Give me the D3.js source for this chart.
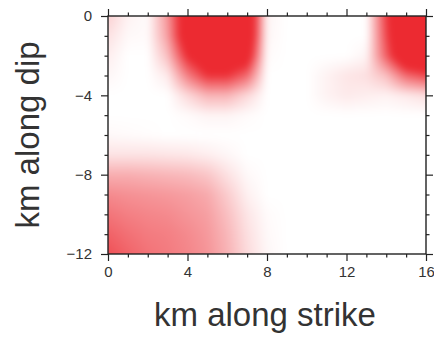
<!DOCTYPE html>
<html>
<head>
<meta charset="utf-8">
<script src="https://cdn.jsdelivr.net/npm/d3@7"></script>
<style>
  html, body { margin: 0; padding: 0; background: #fff; }
  svg { display: block; }
  text { font-family: "Liberation Sans", Arial, Helvetica, sans-serif; fill: #333; }
</style>
</head>
<body>
<svg id="chart" width="434" height="337"></svg>
<script>
// grid nodes (km)
const strikeKm = [0, 1, 2, 3, 4, 5, 6, 7, 8, 9, 10, 11, 12, 13, 14, 15, 16];
const dipKm = [0, -1, -2, -3, -4, -5, -6, -7, -8, -9, -10, -11, -12];

// slip at each node, one row per dip value (top to bottom)
const slip = [
  [0.22, 0.06, 0.02, 0.50, 1.30, 1.50, 1.50, 1.50, 0.05, 0, 0, 0, 0, 0.00, 0.90, 1.60, 1.60],
  [0.14, 0.03, 0.02, 0.45, 1.30, 1.50, 1.50, 1.45, 0.04, 0, 0, 0, 0, 0.00, 0.85, 1.55, 1.60],
  [0.08, 0.00, 0.00, 0.30, 1.00, 1.30, 1.30, 1.20, 0.02, 0, 0, 0, 0, 0.05, 0.75, 1.40, 1.50],
  [0.04, 0.00, 0.00, 0.10, 0.60, 0.95, 0.95, 0.70, 0.00, 0, 0, 0.06, 0.12, 0.15, 0.30, 0.70, 0.85],
  [0.00, 0.00, 0.00, 0.00, 0.18, 0.35, 0.35, 0.18, 0.00, 0, 0, 0.06, 0.10, 0.08, 0.06, 0.10, 0.15],
  [0.00, 0.00, 0.00, 0.00, 0.02, 0.05, 0.05, 0.02, 0.00, 0, 0, 0, 0, 0, 0, 0, 0],
  [0.03, 0.02, 0.01, 0.00, 0.00, 0.00, 0.00, 0.00, 0.00, 0, 0, 0, 0, 0, 0, 0, 0],
  [0.13, 0.13, 0.13, 0.12, 0.11, 0.08, 0.04, 0.00, 0.00, 0, 0, 0, 0, 0, 0, 0, 0],
  [0.38, 0.38, 0.36, 0.34, 0.32, 0.27, 0.14, 0.03, 0.00, 0, 0, 0, 0, 0, 0, 0, 0],
  [0.55, 0.52, 0.50, 0.48, 0.45, 0.40, 0.24, 0.07, 0.00, 0, 0, 0, 0, 0, 0, 0, 0],
  [0.65, 0.60, 0.57, 0.55, 0.50, 0.45, 0.30, 0.12, 0.02, 0, 0, 0, 0, 0, 0, 0, 0],
  [0.74, 0.67, 0.62, 0.60, 0.55, 0.48, 0.34, 0.15, 0.03, 0, 0, 0, 0, 0, 0, 0, 0],
  [0.82, 0.73, 0.66, 0.62, 0.57, 0.50, 0.36, 0.17, 0.04, 0, 0, 0, 0, 0, 0, 0, 0]
];

const xTicks = [0, 4, 8, 12, 16];
const xMinor = [1, 2, 3, 5, 6, 7, 9, 10, 11, 13, 14, 15];
const yTicks = [0, -4, -8, -12];
const yMinor = [-1, -2, -3, -5, -6, -7, -9, -10, -11];

const W = 434, H = 337;
const margin = { top: 16, right: 8, bottom: 83, left: 108 };
const pw = W - margin.left - margin.right;
const ph = H - margin.top - margin.bottom;

const svg = d3.select('#chart');
const g = svg.append('g').attr('transform', `translate(${margin.left},${margin.top})`);

const x = d3.scaleLinear().domain([0, 16]).range([0, pw]);
const y = d3.scaleLinear().domain([0, -12]).range([0, ph]);
const color = d3.scaleLinear().domain([0, 1]).range(['#ffffff', '#ec2a31']).clamp(true);

// --- heat map: bilinear surface through the grid nodes ---
function slipAt(k, d) {
  const fi = (k - strikeKm[0]) / (strikeKm[1] - strikeKm[0]);
  const fj = (d - dipKm[0]) / (dipKm[1] - dipKm[0]);
  const i0 = Math.max(0, Math.min(strikeKm.length - 2, Math.floor(fi)));
  const j0 = Math.max(0, Math.min(dipKm.length - 2, Math.floor(fj)));
  const tx = Math.max(0, Math.min(1, fi - i0));
  const ty = Math.max(0, Math.min(1, fj - j0));
  const a = slip[j0][i0], b = slip[j0][i0 + 1];
  const c = slip[j0 + 1][i0], e = slip[j0 + 1][i0 + 1];
  return (a * (1 - tx) + b * tx) * (1 - ty) + (c * (1 - tx) + e * tx) * ty;
}

const cw = Math.round(pw), ch = Math.round(ph), pad = 14;
const raw = document.createElement('canvas');
raw.width = cw + 2 * pad; raw.height = ch + 2 * pad;
const rctx = raw.getContext('2d');
const img = rctx.createImageData(raw.width, raw.height);
for (let py = 0; py < raw.height; py++) {
  for (let px = 0; px < raw.width; px++) {
    const v = slipAt(x.invert(px - pad + 0.5), y.invert(py - pad + 0.5));
    const col = d3.rgb(color(v));
    const o = (py * raw.width + px) * 4;
    img.data[o] = col.r; img.data[o + 1] = col.g; img.data[o + 2] = col.b; img.data[o + 3] = 255;
  }
}
rctx.putImageData(img, 0, 0);

// soften it a little, like the smoothed original
const canvas = document.createElement('canvas');
canvas.width = cw; canvas.height = ch;
const ctx = canvas.getContext('2d');
ctx.filter = 'blur(3px)';
ctx.drawImage(raw, -pad, -pad);

g.append('image')
  .attr('x', 0).attr('y', 0)
  .attr('width', pw).attr('height', ph)
  .attr('preserveAspectRatio', 'none')
  .attr('href', canvas.toDataURL());

// --- frame and ticks (outward on all four sides) ---
const fmt = d => d < 0 ? '\u2212' + Math.abs(d) : String(d);
const major = 7, minor = 3.5;

function styleAxis(sel) {
  sel.select('.domain').remove();
  sel.selectAll('.tick line').attr('stroke', '#222').attr('stroke-width', 1.2);
  sel.selectAll('.tick text').style('font-size', '15px').attr('fill', '#333');
}

g.append('g').attr('transform', `translate(0,${ph})`)
  .call(d3.axisBottom(x).tickValues(xTicks).tickSize(major).tickPadding(5).tickFormat(fmt))
  .call(styleAxis);
g.append('g').attr('transform', `translate(0,${ph})`)
  .call(d3.axisBottom(x).tickValues(xMinor).tickSize(minor).tickFormat(''))
  .call(styleAxis);
g.append('g')
  .call(d3.axisTop(x).tickValues(xTicks).tickSize(major).tickFormat(''))
  .call(styleAxis);
g.append('g')
  .call(d3.axisTop(x).tickValues(xMinor).tickSize(minor).tickFormat(''))
  .call(styleAxis);

g.append('g')
  .call(d3.axisLeft(y).tickValues(yTicks).tickSize(major).tickPadding(9).tickFormat(fmt))
  .call(styleAxis);
g.append('g')
  .call(d3.axisLeft(y).tickValues(yMinor).tickSize(minor).tickFormat(''))
  .call(styleAxis);
g.append('g').attr('transform', `translate(${pw},0)`)
  .call(d3.axisRight(y).tickValues(yTicks).tickSize(major).tickFormat(''))
  .call(styleAxis);
g.append('g').attr('transform', `translate(${pw},0)`)
  .call(d3.axisRight(y).tickValues(yMinor).tickSize(minor).tickFormat(''))
  .call(styleAxis);

g.append('rect')
  .attr('x', 0).attr('y', 0).attr('width', pw).attr('height', ph)
  .attr('fill', 'none').attr('stroke', '#222').attr('stroke-width', 1.4);

// --- axis titles ---
svg.append('text')
  .attr('x', margin.left + pw / 2 - 2)
  .attr('y', 326)
  .attr('text-anchor', 'middle')
  .style('font-size', '33px')
  .text('km along strike');

svg.append('text')
  .attr('transform', `translate(39,${margin.top + ph / 2}) rotate(-90)`)
  .attr('text-anchor', 'middle')
  .style('font-size', '33px')
  .text('km along dip');
</script>
</body>
</html>
